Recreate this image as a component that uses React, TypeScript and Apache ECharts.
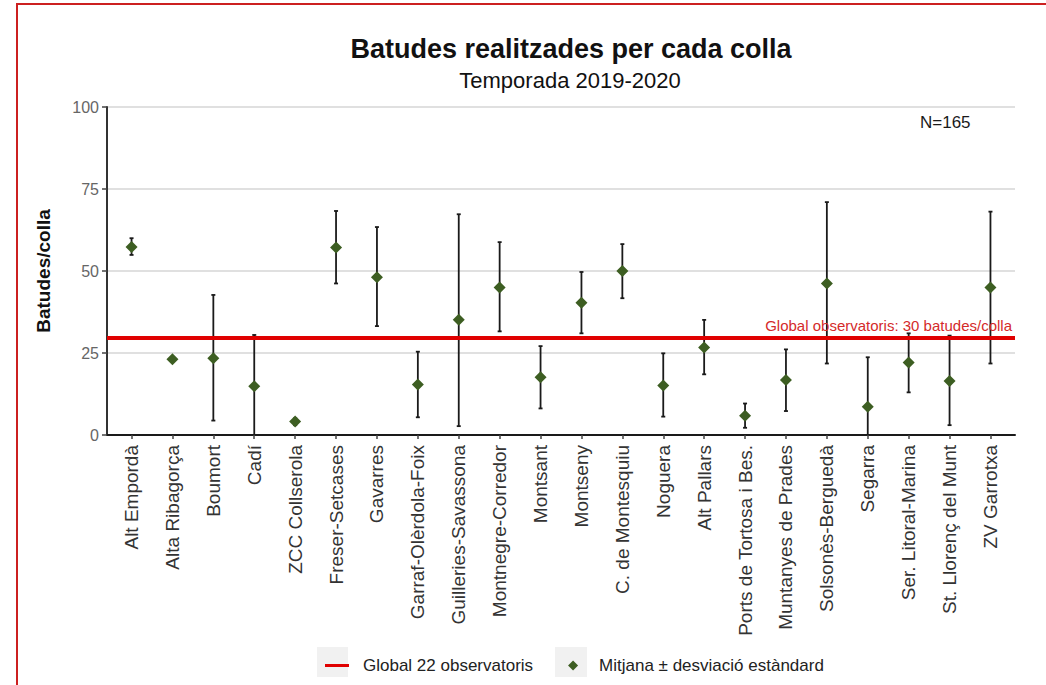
import React, { useEffect, useRef } from "react";
import * as echarts from "echarts";

const categories = [
  "Alt Empordà", "Alta Ribagorça", "Boumort", "Cadí", "ZCC Collserola",
  "Freser-Setcases", "Gavarres", "Garraf-Olèrdola-Foix", "Guilleries-Savassona",
  "Montnegre-Corredor", "Montsant", "Montseny", "C. de Montesquiu", "Noguera",
  "Alt Pallars", "Ports de Tortosa i Bes.", "Muntanyes de Prades",
  "Solsonès-Berguedà", "Segarra", "Ser. Litoral-Marina", "St. Llorenç del Munt",
  "ZV Garrotxa",
];
const means = [57.3, 23.1, 23.4, 14.9, 4.1, 57.2, 48.1, 15.4, 35.1, 45.0, 17.6, 40.3, 50.0, 15.1, 26.7, 5.9, 16.8, 46.2, 8.6, 22.1, 16.5, 45.0];
const upper = [60.0, null, 42.7, 30.5, 5.1, 68.3, 63.4, 25.4, 67.3, 58.8, 27.1, 49.7, 58.2, 24.9, 35.1, 9.6, 26.1, 71.0, 23.7, 31.0, 30.3, 68.1];
const lower = [54.9, null, 4.4, -0.7, 3.0, 46.2, 33.2, 5.4, 2.7, 31.6, 8.1, 31.0, 41.7, 5.6, 18.5, 2.2, 7.3, 21.8, -6.5, 13.0, 3.0, 21.8];
const globalMean = 29.7;
const yTicks = [0, 25, 50, 75, 100];

const FONT = "'Liberation Sans', Arial, sans-serif";

export default function App() {
  const ref = useRef<HTMLDivElement>(null);
  useEffect(() => {
    if (!ref.current) return;
    const chart = echarts.init(ref.current, undefined, { renderer: "svg" });
    const idx = categories.map((_, i) => i);
    const errData = categories
      .map((_, i) => (upper[i] == null ? null : [i, lower[i], upper[i]]))
      .filter((d) => d !== null);
    chart.setOption({
      animation: false,
      backgroundColor: "#ffffff",
      textStyle: { fontFamily: FONT },
      title: [
        {
          text: "Batudes realitzades per cada colla",
          left: 566,
          top: 30,
          textAlign: "center",
          textStyle: { fontSize: 27, fontWeight: "bold", color: "#111", fontFamily: FONT },
        },
        {
          text: "Temporada 2019-2020",
          left: 565,
          top: 64,
          textAlign: "center",
          textStyle: { fontSize: 22, fontWeight: "normal", color: "#111", fontFamily: FONT },
        },
      ],
      grid: { left: 107, right: 31, top: 107, bottom: 250, containLabel: false },
      xAxis: {
        type: "value",
        min: -0.6,
        max: 21.6,
        splitLine: { show: false },
        axisLine: { show: true, onZero: true, lineStyle: { color: "#1a1a1a", width: 2 } },
        axisTick: { show: true, length: 4, customValues: idx, lineStyle: { color: "#444", width: 1.5 } },
        axisLabel: {
          show: true,
          customValues: idx,
          rotate: 90,
          margin: 10,
          fontSize: 19,
          color: "#333",
          fontFamily: FONT,
          formatter: (v: number) => categories[Math.round(v)] ?? "",
        },
      },
      yAxis: {
        type: "value",
        min: 0,
        max: 100,
        interval: 25,
        name: "Batudes/colla",
        nameLocation: "middle",
        nameRotate: 90,
        nameGap: 54,
        nameTextStyle: { fontSize: 19, fontWeight: "bold", color: "#111", fontFamily: FONT },
        axisLine: { show: true, onZero: false, lineStyle: { color: "#333", width: 2 } },
        axisTick: { show: true, length: 5, lineStyle: { color: "#444", width: 1.5 } },
        axisLabel: {
          margin: 8,
          fontSize: 16,
          color: "#666",
          fontFamily: FONT,
          customValues: yTicks,
        },
        splitLine: { show: true, lineStyle: { color: "#d6d6d6", width: 1.5 } },
      },
      legend: {
        left: 320,
        top: 652,
        orient: "horizontal",
        itemWidth: 24,
        itemHeight: 10,
        itemGap: 35,
        textStyle: { fontSize: 17, color: "#222", fontFamily: FONT, padding: [0, 0, 0, 9] },
        data: [
          { name: "Global 22 observatoris", icon: "path://M0,0L24,0L24,3L0,3Z" },
          { name: "Mitjana ± desviació estàndard", icon: "path://M5,0L10,5L5,10L0,5Z" },
        ],
      },
      graphic: [
        {
          type: "rect",
          z: -10,
          shape: { x: 17, y: 4, width: 1080, height: 720 },
          style: { fill: "none", stroke: "#cc2020", lineWidth: 2 },
        },
        {
          type: "rect",
          z: -5,
          shape: { x: 317, y: 647, width: 31, height: 30 },
          style: { fill: "#f1f1f1" },
        },
        {
          type: "rect",
          z: -5,
          shape: { x: 555, y: 647, width: 32, height: 30 },
          style: { fill: "#f1f1f1" },
        },
        {
          type: "text",
          left: 920,
          top: 114,
          style: { text: "N=165", fontSize: 17, fill: "#1a1a1a", fontFamily: FONT },
        },
      ],
      series: [
        {
          name: "Global 22 observatoris",
          type: "line",
          data: [],
          itemStyle: { color: "#e00000" },
          lineStyle: { color: "#e00000", width: 4 },
          z: 2,
          markLine: {
            silent: true,
            symbol: "none",
            lineStyle: { color: "#e00000", width: 4, type: "solid" },
            label: {
              show: true,
              position: "insideEndTop",
              distance: [3, 5],
              formatter: "Global observatoris: 30 batudes/colla",
              color: "#d42a2a",
              fontSize: 15,
              fontFamily: FONT,
            },
            data: [{ yAxis: globalMean }],
          },
        },
        {
          name: "sd",
          type: "custom",
          clip: true,
          z: 3,
          data: errData,
          encode: { x: 0, y: [1, 2] },
          renderItem: (params: any, api: any) => {
            const x = api.value(0);
            const lo = api.coord([x, api.value(1)]);
            const hi = api.coord([x, api.value(2)]);
            const hw = 2;
            const style = { stroke: "#1a1a1a", lineWidth: 1.8 };
            return {
              type: "group",
              children: [
                { type: "line", shape: { x1: lo[0], y1: lo[1], x2: hi[0], y2: hi[1] }, style },
                { type: "line", shape: { x1: hi[0] - hw, y1: hi[1], x2: hi[0] + hw, y2: hi[1] }, style },
                { type: "line", shape: { x1: lo[0] - hw, y1: lo[1], x2: lo[0] + hw, y2: lo[1] }, style },
              ],
            };
          },
        },
        {
          name: "Mitjana ± desviació estàndard",
          type: "scatter",
          symbol: "diamond",
          symbolSize: 12,
          z: 4,
          itemStyle: { color: "#3d5e22", opacity: 1 },
          data: means.map((m, i) => [i, m]),
        },
      ],
    });
    return () => chart.dispose();
  }, []);
  return (
    <div
      ref={ref}
      style={{ position: "absolute", left: 0, top: 0, width: 1046, height: 685 }}
    />
  );
}
